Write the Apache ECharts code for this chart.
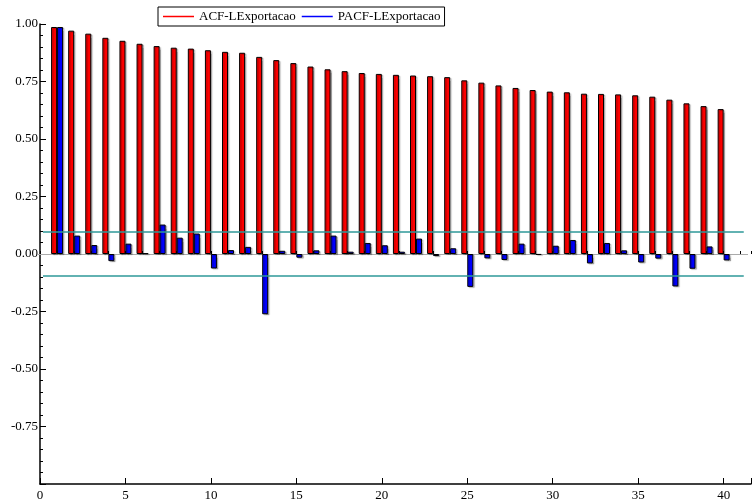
<!DOCTYPE html>
<html>
<head>
<meta charset="utf-8">
<script src="https://cdn.jsdelivr.net/npm/echarts@6/dist/echarts.min.js"></script>
<style>
  html, body { margin: 0; padding: 0; background: #fff; }
  #chart { width: 754px; height: 502px; }
</style>
</head>
<body>
<div id="chart"></div>
<script>
// Lags 1..40
const lags = [1,2,3,4,5,6,7,8,9,10,11,12,13,14,15,16,17,18,19,20,
              21,22,23,24,25,26,27,28,29,30,31,32,33,34,35,36,37,38,39,40];

// Autocorrelation function of LExportacao
const acfValues = [0.987,0.971,0.958,0.940,0.927,0.914,0.904,0.897,0.893,0.886,
                   0.879,0.875,0.857,0.843,0.830,0.815,0.803,0.795,0.787,0.783,
                   0.779,0.776,0.773,0.769,0.755,0.745,0.733,0.722,0.713,0.706,
                   0.703,0.697,0.696,0.694,0.690,0.684,0.671,0.655,0.643,0.630];

// Partial autocorrelation function of LExportacao
const pacfValues = [0.987,0.080,0.039,-0.031,0.045,0.003,0.128,0.071,0.089,-0.063,
                    0.017,0.031,-0.262,0.014,-0.016,0.016,0.080,0.010,0.048,0.038,
                    0.010,0.067,-0.009,0.025,-0.143,-0.019,-0.026,0.045,-0.004,0.036,
                    0.061,-0.041,0.048,0.016,-0.037,-0.020,-0.141,-0.064,0.033,-0.028];

// Approximate confidence band (±2/sqrt(T))
const bandLevel = 0.096;

const seriesNames = ['ACF-LExportacao', 'PACF-LExportacao'];
const yTickLabels = ['-1.00','-0.75','-0.50','-0.25','0.00','0.25','0.50','0.75','1.00'];
const xTickLabels = ['0','5','10','15','20','25','30','35','40'];

const X_MAX = 41.6;
const FONT = '"Liberation Serif", "DejaVu Serif", serif';

const chart = echarts.init(document.getElementById('chart'), null, { renderer: 'canvas' });

const barStyle = (color) => ({
  color: color,
  borderColor: '#000',
  borderWidth: 1,
  shadowColor: 'rgba(0,0,0,0.25)',
  shadowBlur: 1,
  shadowOffsetX: 1.5,
  shadowOffsetY: 1
});

chart.setOption({
  animation: false,
  backgroundColor: '#fff',
  grid: { left: 40, right: 0, top: 24, bottom: 18, containLabel: false },
  legend: {
    data: seriesNames,
    left: 158,
    top: 7,
    orient: 'horizontal',
    icon: 'rect',
    itemWidth: 31,
    itemHeight: 1.5,
    itemGap: 6,
    padding: [3, 4, 3, 5],
    borderColor: '#000',
    borderWidth: 1,
    textStyle: { fontFamily: FONT, fontSize: 13, color: '#000' },
    itemStyle: { borderWidth: 0, shadowBlur: 0, shadowOffsetX: 0, shadowOffsetY: 0, shadowColor: 'transparent' }
  },
  xAxis: [
    {
      // major ticks and labels every 5 lags
      type: 'value', min: 0, max: X_MAX, interval: 5,
      axisLine: { show: true, onZero: false, lineStyle: { color: '#000', width: 1.5 } },
      axisTick: { show: true, inside: true, length: 6, lineStyle: { color: '#000', width: 1 } },
      axisLabel: {
        margin: 5, fontFamily: FONT, fontSize: 13, color: '#000',
        formatter: (v) => (xTickLabels.indexOf(String(v)) >= 0 ? String(v) : '')
      },
      splitLine: { show: false }
    },
    {
      // minor ticks at every lag
      type: 'value', min: 0, max: X_MAX, interval: 1, position: 'bottom',
      axisLine: { show: false },
      axisTick: { show: true, inside: true, length: 3, lineStyle: { color: '#000', width: 1 } },
      axisLabel: { show: false },
      splitLine: { show: false }
    }
  ],
  yAxis: {
    type: 'value', min: -1, max: 1, interval: 0.25,
    axisLine: { show: true, onZero: false, lineStyle: { color: '#000', width: 1.5 } },
    axisTick: { show: true, inside: true, length: 6, lineStyle: { color: '#000', width: 1 } },
    minorTick: { show: true, splitNumber: 5, length: 3, lineStyle: { color: '#000', width: 1 } },
    axisLabel: {
      margin: 2, fontFamily: FONT, fontSize: 13, color: '#000',
      showMinLabel: false,
      formatter: (v) => v.toFixed(2)
    },
    splitLine: { show: false }
  },
  series: [
    {
      name: seriesNames[0],
      type: 'bar',
      xAxisIndex: 0,
      barWidth: 6,
      barGap: '0%',
      itemStyle: barStyle('#ff0000'),
      data: lags.map((l, i) => [l, acfValues[i]]),
      markLine: {
        silent: true,
        symbol: 'none',
        label: { show: false },
        lineStyle: { color: '#aaaaaa', width: 1, type: 'solid' },
        data: [[{ coord: [0, 0] }, { coord: [X_MAX, 0] }]],
        z: 1
      },
      z: 3
    },
    {
      name: seriesNames[1],
      type: 'bar',
      xAxisIndex: 0,
      barWidth: 6,
      barGap: '0%',
      itemStyle: barStyle('#0000ff'),
      data: lags.map((l, i) => [l, pacfValues[i]]),
      markLine: {
        silent: true,
        symbol: 'none',
        label: { show: false },
        lineStyle: { color: '#2e9898', width: 1.5, type: 'solid' },
        data: [
          [{ coord: [0, bandLevel] }, { coord: [41, bandLevel] }],
          [{ coord: [0, -bandLevel] }, { coord: [41, -bandLevel] }]
        ]
      },
      z: 3
    }
  ]
});
</script>
</body>
</html>
